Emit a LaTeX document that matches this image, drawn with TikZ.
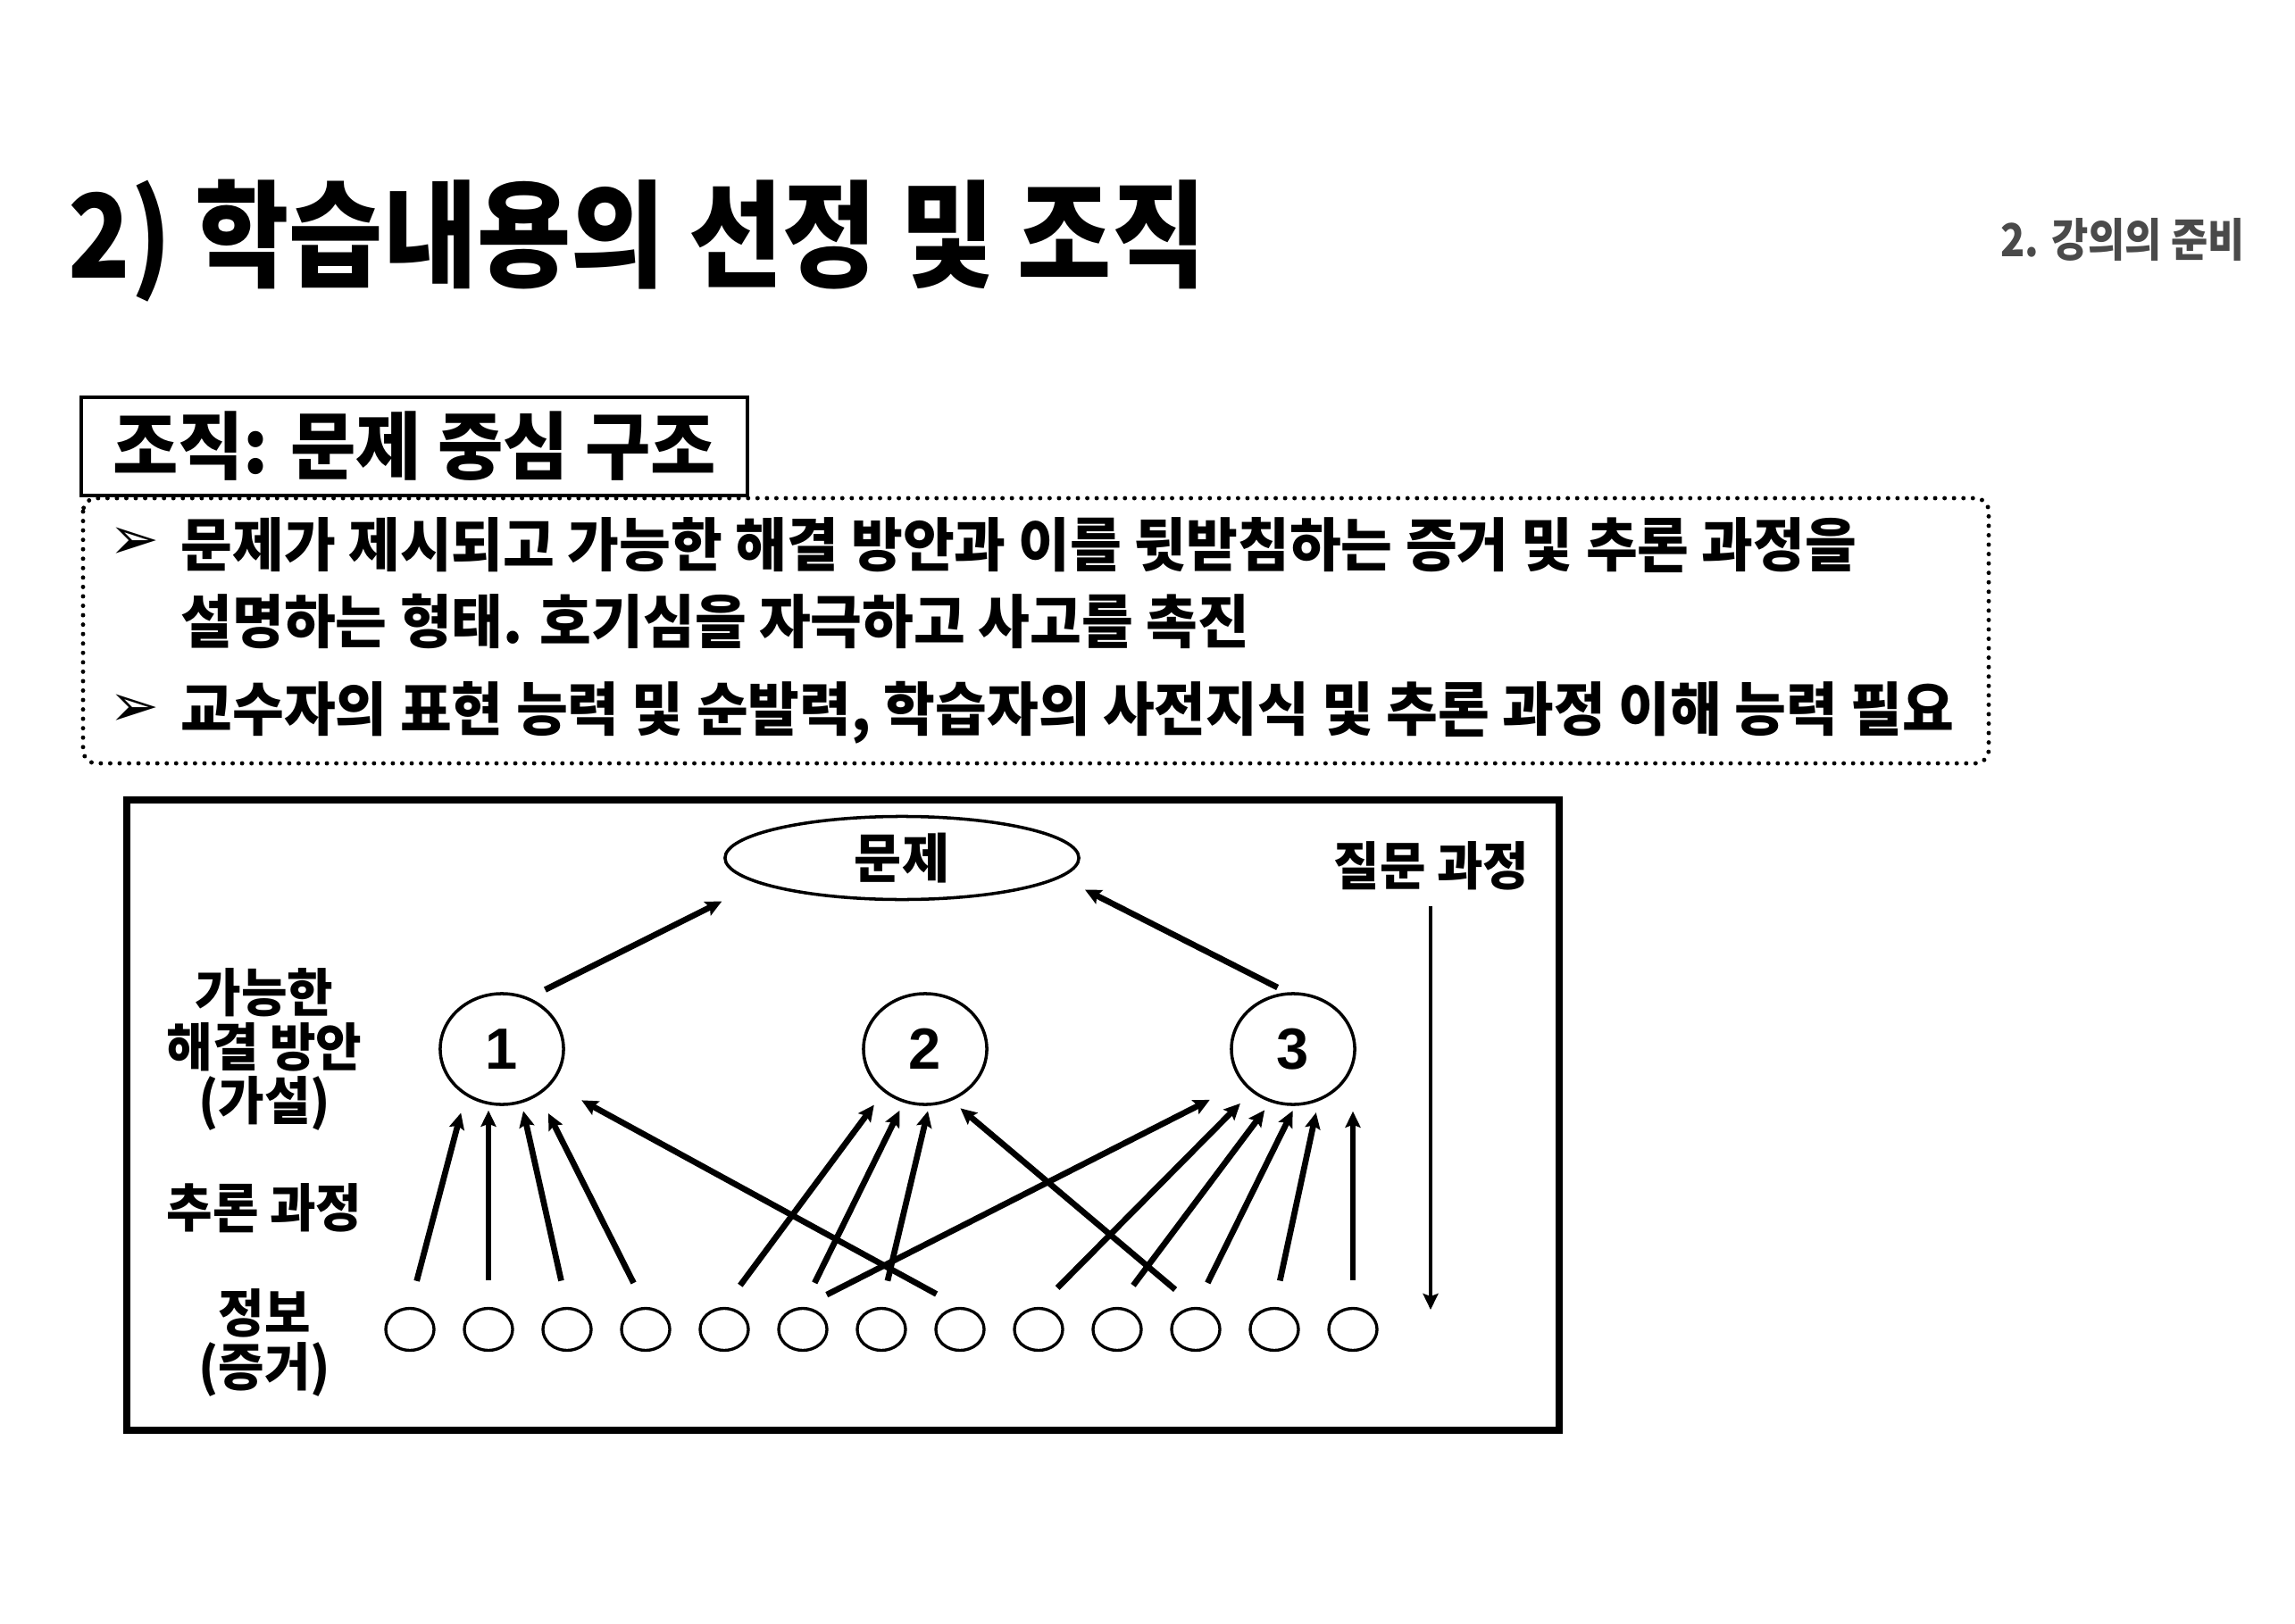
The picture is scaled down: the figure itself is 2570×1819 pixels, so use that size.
\documentclass[tikz,border=0pt]{standalone}
\usepackage{fontspec}
\newfontfamily\kofont{Noto Sans CJK KR}[FakeStretch=0.88]
\newfontfamily\kowide{Noto Sans CJK KR}[FakeStretch=0.965]
\newfontfamily\numfont{Liberation Sans}
\newfontfamily\symfont{DejaVu Sans}
\usepackage{tikz}
\usetikzlibrary{shapes.geometric, arrows.meta, positioning}
\definecolor{headgray}{HTML}{4A4A4A}

\tikzset{
  ktitle/.style={font=\kofont\bfseries\fontsize{#1}{#1}\selectfont, inner sep=0pt},
  ktext/.style={font=\kowide\bfseries\fontsize{#1}{#1}\selectfont, inner sep=0pt},
  hyp/.style={ellipse, draw, line width=1pt, minimum width=1.38cm, minimum height=1.24cm, inner sep=0pt, font=\numfont\bfseries\fontsize{18.5}{18.5}\selectfont},
  evid/.style={ellipse, draw, line width=0.95pt, minimum width=0.54cm, minimum height=0.47cm, inner sep=0pt},
  arr/.style={->, line width=1.9pt, shorten <=0.3cm},
  dotframe/.style={line width=1.4pt, line cap=round, dash pattern=on 0pt off 3pt, rounded corners=0.15cm},
}

\begin{document}
\begin{tikzpicture}[x=0.01cm, y=-0.01cm, >={Stealth[length=0.18cm, width=0.17cm, inset=0.03cm]}]
    \useasboundingbox (0,0) rectangle (2570,1819);

    \node[ktitle=37, anchor=west] (title) at (76,270) {2) 학습내용의 선정 및 조직};
    \node[ktitle=14.5, text=headgray] (chapter) at (2377,268) {2. 강의의 준비};

    \node[ktext=23.5, draw, line width=1pt, minimum width=7.46cm, minimum height=1.10cm] (topic) at (464,500) {조직: 문제 중심 구조};
    \draw[dotframe] (93,558) rectangle (2227,855);

    \node[font=\symfont\fontsize{19}{19}\selectfont, inner sep=0pt] (bullet1) at (150,609) {➢};
    \node[font=\symfont\fontsize{19}{19}\selectfont, inner sep=0pt] (bullet2) at (150,796) {➢};
    \node[ktext=18.5, anchor=west] (line1) at (202,611) {문제가 제시되고 가능한 해결 방안과 이를 뒷받침하는 증거 및 추론 과정을};
    \node[ktext=18.5, anchor=west] (line2) at (202,696) {설명하는 형태. 호기심을 자극하고 사고를 촉진};
    \node[ktext=18.5, anchor=west] (line3) at (202,798) {교수자의 표현 능력 및 순발력, 학습자의 사전지식 및 추론 과정 이해 능력 필요};

    \draw[line width=2.1pt] (142,896) rectangle (1746,1602);

    % labels on the left
    \node[ktext=16.5] (lbl1) at (296,1112) {가능한};
    \node[ktext=16.5] (lbl2) at (296,1173) {해결 방안};
    \node[ktext=16.5] (lbl3) at (296,1236) {(가설)};
    \node[ktext=16.5] (lbl4) at (296,1353) {추론 과정};
    \node[ktext=16.5] (lbl5) at (296,1471) {정보};
    \node[ktext=16.5] (lbl6) at (296,1534) {(증거)};

    \node[ellipse, draw, line width=1pt, minimum width=3.96cm, minimum height=0.93cm, ktext=17] (prob) at (1010,961) {문제};
    \node[ktext=16.5] (quest) at (1603,970) {질문 과정};

    \node[hyp] (h1) at (562,1175) {1};
    \node[hyp] (h2) at (1036,1175) {2};
    \node[hyp] (h3) at (1448,1175) {3};

    \node[evid] (e1) at (459,1489) {};
    \node[evid] (e2) at (547,1489) {};
    \node[evid] (e3) at (635,1489) {};
    \node[evid] (e4) at (723,1489) {};
    \node[evid] (e5) at (811,1489) {};
    \node[evid] (e6) at (899,1489) {};
    \node[evid] (e7) at (987,1489) {};
    \node[evid] (e8) at (1075,1489) {};
    \node[evid] (e9) at (1163,1489) {};
    \node[evid] (e10) at (1251,1489) {};
    \node[evid] (e11) at (1339,1489) {};
    \node[evid] (e12) at (1427,1489) {};
    \node[evid] (e13) at (1515,1489) {};

    \draw[arr, shorten <=0.2cm, shorten >=0.45cm] (h1.62) -- (prob.190);
    \draw[arr, shorten <=0.12cm, shorten >=0.3cm] (h3.96) -- (prob.353);

    \draw[arr, shorten >=0.2cm] (e1.north) -- (h1.232);
    \draw[arr, shorten >=0.05cm] (e2.north) -- (e2.north |- h1.south);
    \draw[arr, shorten >=0.09cm] (e3.north) -- (h1.290);
    \draw[arr, shorten >=0.23cm] (e4.north) -- (h1.309);
    \draw[arr, shorten >=0.38cm] (e8.north) -- (h1.325);

    \draw[arr, shorten >=0.18cm] (e5.north) -- (h2.226);
    \draw[arr, shorten >=0.1cm] (e6.north) -- (h2.248);
    \draw[arr, shorten >=0.06cm] (e7.north) -- (h2.274);
    \draw[arr, shorten >=0.13cm] (e11.north) -- (h2.297);

    \draw[arr, shorten >=0.41cm] (e6.north) -- (h3.214);
    \draw[arr, shorten >=0.18cm] (e9.north) -- (h3.226);
    \draw[arr, shorten >=0.11cm] (e10.north) -- (h3.247);
    \draw[arr, shorten >=0.06cm] (e11.north) -- (h3.272);
    \draw[arr, shorten >=0.13cm] (e12.north) -- (h3.296);
    \draw[arr, shorten >=0.06cm] (e13.north) -- (e13.north |- h3.south);

    \coordinate (qtop) at (1602,1015);
    \coordinate (qend) at (1602,1467);
    \draw[->, line width=1.4pt] (qtop) -- (qend);

\end{tikzpicture}
\end{document}
